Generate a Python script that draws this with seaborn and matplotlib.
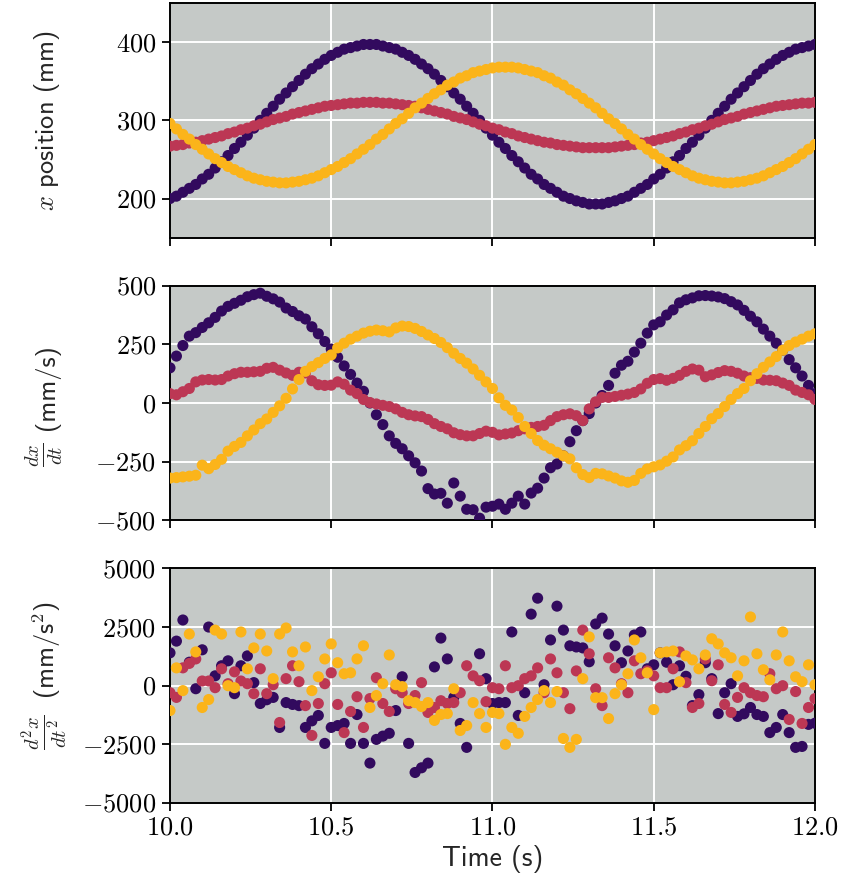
import numpy as np
import pandas as pd
import matplotlib
matplotlib.use("Agg")
import matplotlib.pyplot as plt
from matplotlib.ticker import FuncFormatter, FixedLocator
import seaborn as sns

# ---------------- data ----------------
time = np.round(np.linspace(10.0, 12.0, 101), 2)
series_names = ["A", "B", "C"]
colors = ["#320a5e", "#bc3754", "#fbb41a"]

pos_A = [200,203,208,213,218,225,231,239,247,255,
         264,272,281,290,300,309,318,327,335,343,
         351,359,366,372,378,383,387,391,393,395,
         397,397,397,395,393,391,387,383,378,372,
         366,359,351,343,335,327,318,309,300,290,
         281,272,264,255,247,239,231,225,218,213,
         208,203,200,197,195,193,193,193,195,197,
         200,203,208,213,218,225,231,239,247,255,
         264,272,281,290,300,309,318,327,335,343,
         351,359,366,372,378,383,387,391,393,395,
         397]
pos_B = [267,268,269,271,272,274,276,278,280,283,
         285,288,290,293,295,298,301,303,305,308,
         310,312,314,316,318,319,320,321,322,322,
         323,323,323,322,322,321,320,319,318,316,
         314,312,310,308,305,303,301,298,295,293,
         290,288,285,283,280,278,276,274,272,271,
         269,268,267,266,265,265,265,265,265,266,
         267,268,269,271,272,274,276,278,280,283,
         285,288,290,293,295,298,301,303,305,308,
         310,312,314,316,318,319,320,321,322,322,
         323]
pos_C = [296,289,282,276,269,263,257,251,246,241,
         237,233,229,226,224,222,221,220,220,221,
         222,224,226,229,233,237,241,246,251,257,
         263,269,276,282,289,296,302,309,316,322,
         328,334,339,345,349,354,357,361,363,365,
         367,368,368,368,367,365,363,361,357,354,
         349,345,339,334,328,322,316,309,302,296,
         289,282,276,269,263,257,251,246,241,237,
         233,229,226,224,222,221,220,220,221,222,
         224,226,229,233,237,241,246,251,257,263,
         269]

vel_A = [150,200,245,285,300,322,342,365,392,412,
         425,438,453,462,468,455,444,430,405,390,
         372,358,325,295,262,230,195,158,122,85,
         50,0,-50,-92,-140,-172,-195,-225,-255,-290,
         -365,-388,-385,-427,-341,-397,-453,-455,-491,-444,
         -440,-431,-453,-427,-397,-431,-384,-363,-320,-276,
         -260,-225,-165,-118,-75,-45,0,32,75,127,
         161,178,217,255,298,333,346,375,397,427,
         440,448,457,458,456,452,445,432,418,395,
         370,346,315,285,255,225,185,150,115,75,
         40]
vel_B = [40,35,48,62,90,98,100,98,100,115,
         125,131,131,133,135,148,152,140,128,118,
         131,128,95,78,75,76,90,80,55,40,
         15,2,-4,-10,-15,-25,-40,-50,-55,-58,
         -70,-88,-100,-110,-127,-135,-140,-140,-130,-120,
         -125,-136,-132,-128,-118,-110,-104,-100,-95,-75,
         -58,-50,-46,-54,-75,-25,5,24,24,28,
         33,38,45,60,84,100,104,97,105,118,
         135,145,140,112,120,130,138,135,127,115,
         108,105,98,97,95,85,75,55,45,35,
         15]
vel_C = [-320,-318,-315,-312,-308,-265,-280,-262,-240,-205,
         -185,-168,-140,-115,-88,-68,-40,-12,20,60,
         100,135,155,172,190,205,235,255,272,285,
         298,306,311,308,303,320,328,326,318,305,
         290,275,258,236,212,190,170,145,118,90,
         62,22,-10,-30,-62,-100,-130,-160,-180,-195,
         -210,-225,-238,-276,-305,-318,-300,-302,-311,-320,
         -332,-338,-330,-300,-281,-272,-264,-248,-230,-200,
         -182,-161,-130,-100,-67,-45,-15,15,40,62,
         95,125,152,175,198,225,245,260,272,285,
         295]

acc_A = [1400,1900,2800,1000,-130,1530,2500,420,850,1060,
         -340,850,1270,130,-760,-600,-500,-1780,-720,-800,
         -850,-1780,-1500,-1270,-2460,-1780,-1700,-1610,-2460,-1230,
         -2460,-3300,-2290,-2150,-2030,-1060,380,-2460,-3700,-3500,
         -3300,800,2030,1140,-500,-1610,-2630,5250,1360,300,
         -760,-720,-720,2290,-1270,-300,3050,3730,40,1950,
         3390,2370,1700,1650,1610,1020,2630,2880,2200,1700,
         980,1480,2160,2290,720,890,1400,1000,40,850,
         400,-850,-380,980,300,-1190,-300,85,-1310,-1200,
         -930,-1230,-1310,-2000,-1780,-1230,-2000,-2630,-2590,-1650,
         -1600]
acc_B = [-300,-500,760,950,1140,200,200,-85,720,85,
         590,200,85,-340,720,-340,40,-1570,300,850,
         170,-850,-2120,-760,85,550,-800,-2000,-1100,-470,
         -1780,-550,340,-760,-1100,-130,-300,-760,-420,130,
         -1140,-930,-640,-760,-720,-300,850,420,210,-680,
         -85,-130,850,-85,0,300,420,760,-300,1140,
         550,-300,-980,630,2370,1360,-130,-850,1190,760,
         85,-300,1060,510,630,420,-85,-85,720,1440,
         130,-930,-760,1140,210,890,-800,-1140,-500,-85,
         -300,-420,-470,510,-130,0,-1440,-250,-1610,-930,
         -550]
acc_C = [-1060,760,-210,2200,1440,-930,-590,2370,2200,0,
         -85,2290,720,1610,2200,1480,300,2200,2460,1440,
         850,1650,-210,380,1140,1780,980,510,550,1140,
         1700,-930,-420,85,1310,40,-40,-640,-720,-890,
         -720,-1480,-1230,-1190,-130,-1910,-1700,-720,-1190,-1780,
         -1140,-1190,-2500,-1780,-2030,-1310,-930,-590,-210,-720,
         -250,-2250,-2630,-2290,300,2080,-510,-510,-1400,-340,
         40,510,1950,1190,550,-1020,1400,1440,1480,170,
         1270,1100,720,1310,2000,1780,1400,1190,420,1060,
         2930,1360,680,250,1310,2290,1060,380,170,890,
         40]

x_ticks = [10.0, 10.5, 11.0, 11.5, 12.0]
pos_ticks = [200, 300, 400]
vel_ticks = [-500, -250, 0, 250, 500]
acc_ticks = [-5000, -2500, 0, 2500, 5000]


def long_df(a, b, c):
    frames = []
    for name, vals in zip(series_names, [a, b, c]):
        frames.append(pd.DataFrame({"t": time, "v": vals, "s": name}))
    return pd.concat(frames, ignore_index=True)


df_pos = long_df(pos_A, pos_B, pos_C)
df_vel = long_df(vel_A, vel_B, vel_C)
df_acc = long_df(acc_A, acc_B, acc_C)

# ---------------- style ----------------
sns.set_theme(style="darkgrid", rc={
    "axes.facecolor": "#c5c9c7",
    "grid.color": "white",
    "grid.linewidth": 1.4,
    "axes.edgecolor": "black",
    "axes.linewidth": 1.4,
    "xtick.bottom": True,
    "ytick.left": True,
    "xtick.major.size": 6,
    "ytick.major.size": 6,
    "xtick.major.width": 1.3,
    "ytick.major.width": 1.3,
    "xtick.color": "black",
    "ytick.color": "black",
})
plt.rcParams["font.family"] = ["cmss10", "DejaVu Sans"]
plt.rcParams["mathtext.fontset"] = "cm"
plt.rcParams["axes.unicode_minus"] = True

fig, axes = plt.subplots(3, 1, figsize=(8.44, 8.92), dpi=100, sharex=True)
fig.subplots_adjust(left=0.2014, right=0.9656, top=0.9966, bottom=0.0998, hspace=0.205)

pal = dict(zip(series_names, colors))
dfs = [df_pos, df_vel, df_acc]
ylims = [(150, 450), (-500, 500), (-5000, 5000)]
yticks = [pos_ticks, vel_ticks, acc_ticks]

math_fmt = FuncFormatter(lambda v, p: "$%g$" % v)
xfmt = FuncFormatter(lambda v, p: "$%.1f$" % v)

for ax, d, yl, yt in zip(axes, dfs, ylims, yticks):
    sns.scatterplot(data=d, x="t", y="v", hue="s", palette=pal, hue_order=series_names,
                    legend=False, s=64, linewidth=0, ax=ax, zorder=3)
    ax.set_ylim(*yl)
    ax.yaxis.set_major_locator(FixedLocator(yt))
    ax.yaxis.set_major_formatter(math_fmt)
    ax.set_ylabel("")
    ax.set_xlabel("")
    ax.tick_params(axis="both", labelsize=19, direction="out", pad=4)
    for sp in ax.spines.values():
        sp.set_visible(True)
        sp.set_color("black")
        sp.set_linewidth(1.4)
    ax.grid(True, color="white", linewidth=1.4)
    ax.set_axisbelow(True)

# y labels
lx = -0.1907
axes[0].text(lx, 0.5, r"$x$ position (mm)", transform=axes[0].transAxes,
             rotation=90, ha="center", va="center", fontsize=19)
axes[1].text(lx, 0.57, "(mm/s)", transform=axes[1].transAxes,
             rotation=90, ha="center", va="center", fontsize=19)
axes[1].text(lx - 0.004, 0.28, r"$\frac{dx}{dt}$", transform=axes[1].transAxes,
             rotation=90, ha="center", va="center", fontsize=21)
axes[2].text(lx, 0.65, r"(mm/s$^2$)", transform=axes[2].transAxes,
             rotation=90, ha="center", va="center", fontsize=19)
axes[2].text(lx - 0.004, 0.3, r"$\frac{d^2x}{dt^2}$", transform=axes[2].transAxes,
             rotation=90, ha="center", va="center", fontsize=21)

axes[-1].set_xlim(10, 12)
axes[-1].xaxis.set_major_locator(FixedLocator(x_ticks))
axes[-1].xaxis.set_major_formatter(xfmt)
axes[-1].set_xlabel("Time (s)", fontsize=20, labelpad=4)

fig.savefig("out.png", dpi=100)
